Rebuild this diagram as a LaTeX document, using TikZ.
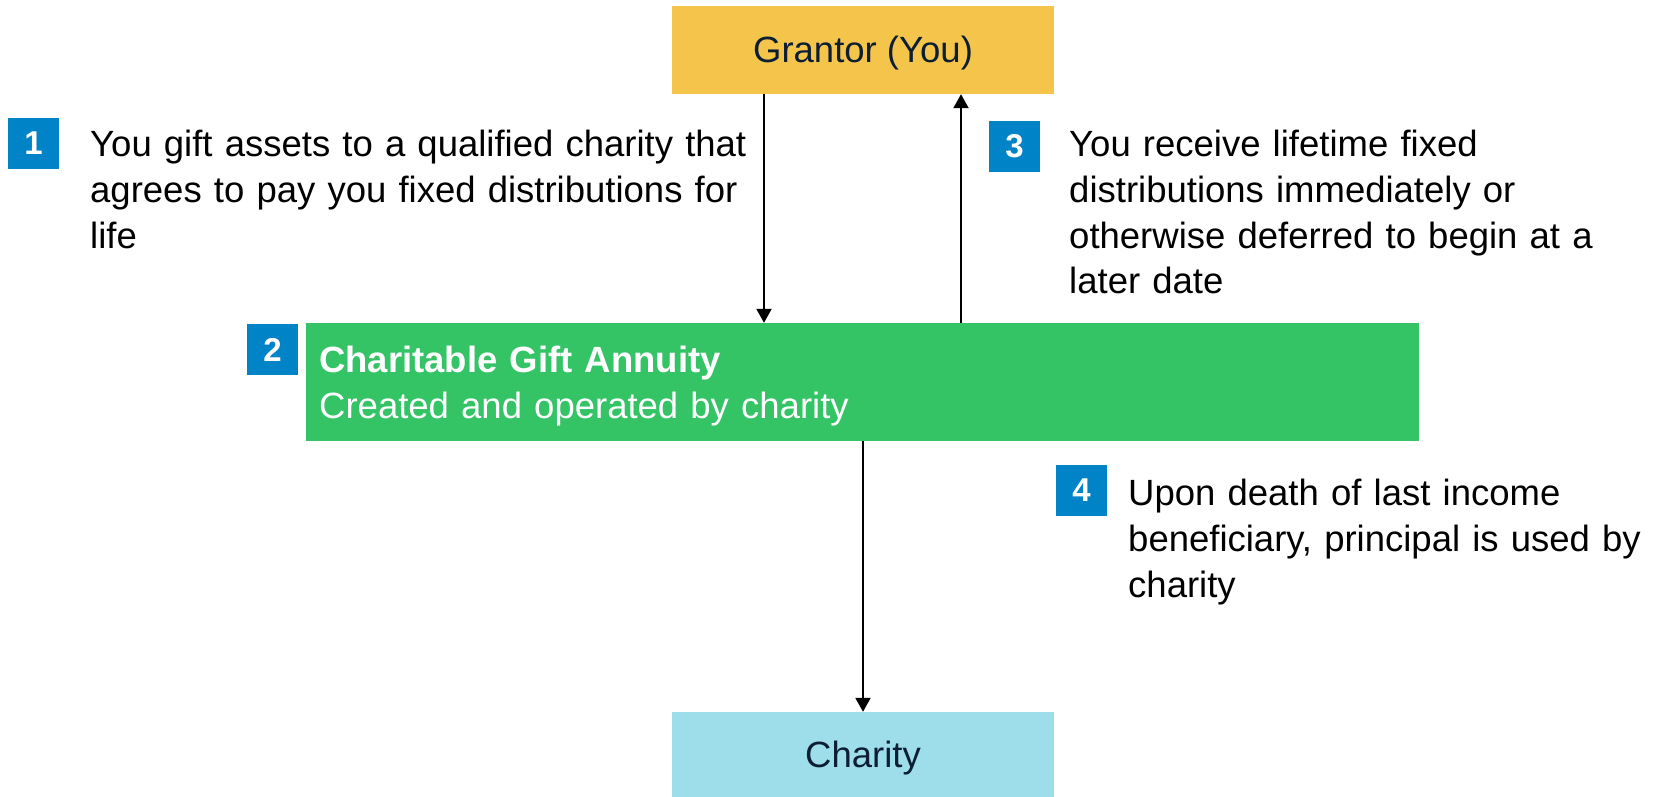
\documentclass[tikz,border=0pt]{standalone}
\usepackage{fontspec}
\setmainfont{Liberation Sans}
\usetikzlibrary{arrows.meta,calc}
\definecolor{grantorfill}{RGB}{245,197,75}
\definecolor{cgafill}{RGB}{52,196,102}
\definecolor{charityfill}{RGB}{158,222,235}
\definecolor{badgeblue}{RGB}{0,132,199}
\definecolor{navytext}{RGB}{12,30,51}
\begin{document}
\begin{tikzpicture}[x=1pt,y=-1pt,
  bigbox/.style={rectangle,inner sep=0pt,minimum width=382pt,text=navytext,
    text height=26pt,text depth=0pt,
    font=\fontsize{36.5}{46}\selectfont},
  badge/.style={rectangle,fill=badgeblue,inner sep=0pt,minimum width=51pt,minimum height=51pt,
    text=white,font=\fontsize{33}{40}\selectfont\bfseries},
  desc/.style={anchor=base west,inner sep=0pt,align=left,text width=700pt,
    font=\fontsize{36.5}{46}\selectfont},
  arr/.style={line width=2pt,-{Triangle[width=15pt,length=14pt]}}
]
\useasboundingbox (0,0) rectangle (1656,797);
% boxes
\node[bigbox,fill=grantorfill,minimum height=88pt] (grantor) at (863,50) {Grantor (You)};
\node[rectangle,fill=cgafill,inner sep=0pt,minimum width=1113pt,minimum height=118pt] (cga) at (862.5,382) {};
\node[bigbox,fill=charityfill,minimum height=85pt] (charity) at (863,754.5) {Charity};
% green box text
\node[desc,text=white] (cgatext) at (319,372) {\textbf{Charitable Gift Annuity}\\Created and operated by charity};
% badges
\node[badge] (b1) at (33.5,143.5) {1};
\node[badge] (b2) at (272.5,349.5) {2};
\node[badge] (b3) at (1014.5,146.5) {3};
\node[badge] (b4) at (1081.5,490.5) {4};
% descriptions
\node[desc] (t1) at (90,157) {You gift assets to a qualified charity that\\agrees to pay you fixed distributions for\\life};
\node[desc] (t3) at (1069,156) {You receive lifetime fixed\\distributions immediately or\\otherwise deferred to begin at a\\later date};
\node[desc] (t4) at (1128,505) {Upon death of last income\\beneficiary, principal is used by\\charity};
% connectors
\coordinate (xd) at (764,0);
\coordinate (xu) at (961,0);
\coordinate (xc) at (863,0);
\draw[arr] (xd |- grantor.south) -- (xd |- cga.north);
\draw[arr] (xu |- cga.north) -- (xu |- grantor.south);
\draw[arr] (xc |- cga.south) -- (xc |- charity.north);
\end{tikzpicture}
\end{document}
